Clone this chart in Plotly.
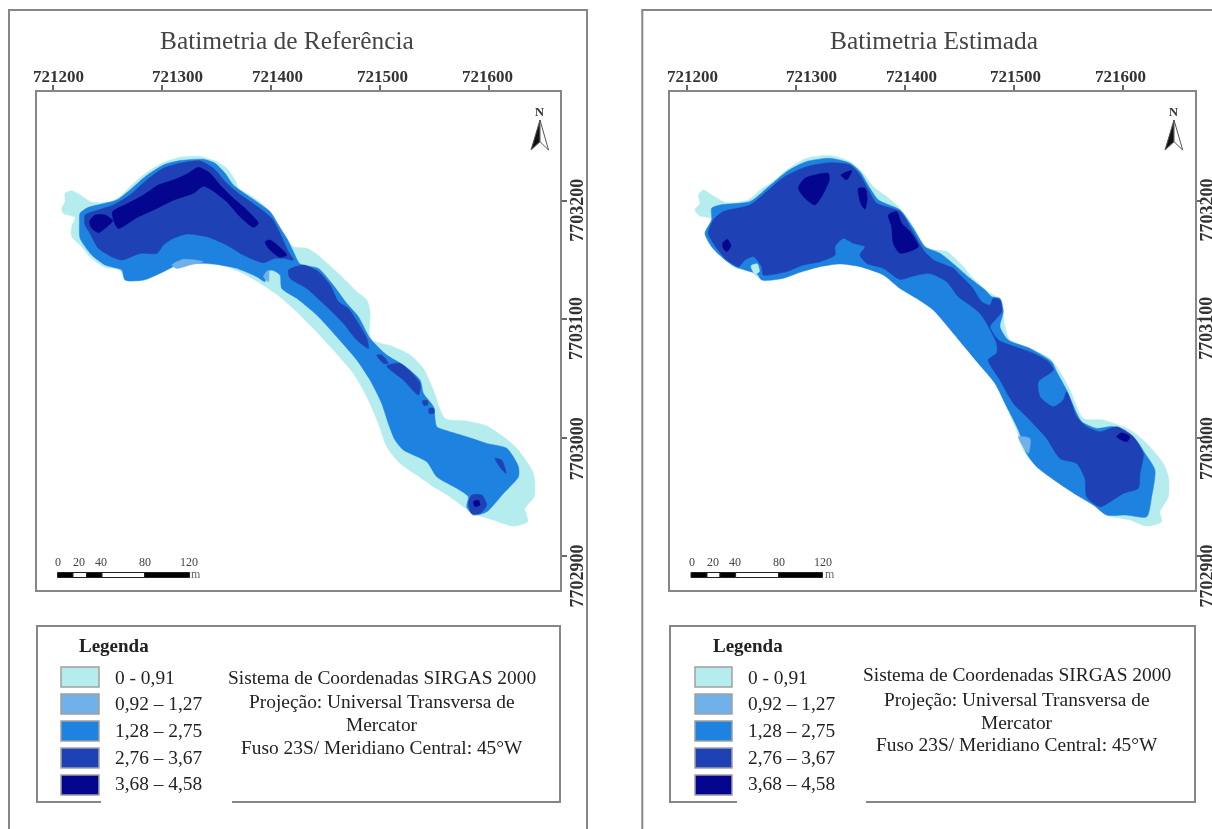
import plotly.graph_objects as go

W, H = 1212, 829
EAST0, NORTH0 = 721000, 7703000
N = None

# ---------------- data: contours, metres east of 721000 / north of 7703000 ----------------
ref_c1_e = [211.3,217.4,225.1,235.8,252.6,261.8,270.9,283.2,300,316.8,335.2,350.4,359.6,367.3,370.3,381,393.3,402.4,411.6,420.8,433,445.2,448.3,463.6,478.9,488.1,491.1,490.5,492.6,512.5,527.8,540,549.2,559.9,579.8,598.1,613.4,625.7,641,641.6,633.3,635.8,622.6,604.3,585.9,576.7,564.5,549.2,533.9,518.6,506.4,498.8,488.1,475.8,457.5,439.1,423.8,408.5,390.2,374.9,359.6,341.3,322.9,304.6,284.7,266.4,261.8,246.5,234.2,225.1,217.4,217.4,220.5,209.8,208.3,211.3,211.3]
ref_c1_n = [206.5,208.7,205,198.9,199.4,203.6,212.1,222,231.8,236.9,237.5,233.2,227.6,217.7,210.7,205,196.6,186.7,172.6,161.4,160,152.9,150.1,137.4,123.3,116.3,106.4,88.1,82.5,76.8,69.8,58.5,40.2,16.2,14,9.8,.7,-9.1,-30.3,-50,-59.9,-71.1,-74.8,-69.7,-64.1,-58.4,-50,-41.5,-31.7,-21.8,-7.7,12,34.6,54.3,74,92.3,106.4,119.1,130.4,138.8,144.5,148.7,148.7,141.6,133.2,133.2,141.6,144.5,152.9,162.8,169.8,178.3,186.2,189.6,193.8,199.4,206.5]

ref_c3_e = [225.1,232.7,245,258.7,270.9,284.7,301.5,316.8,338.2,348.9,358.1,365.7,387.1,399.4,407,414.7,420.8,426.9,443.7,456,469.7,480.4,491.1,506.4,521.7,537,540,549.2,552.3,561.4,579.8,598.1,616.5,627.2,627.2,613.4,598.1,585.9,579.8,581.3,570.6,552.3,543.1,521.7,514,507.9,501.8,491.1,478.9,460.5,442.2,423.8,410.1,408.5,400.9,394.8,394.8,387.1,368.8,350.4,332.1,313.8,301.5,283.2,266.4,263.3,248,235.8,225.1,224.5,225.1]
ref_c3_n = [189.6,194.6,197.4,200.8,209.3,220.5,230.4,234.1,235.2,231.8,223.4,213.5,199.4,191,179.7,168.4,157.1,146.7,143,130.4,113.5,102.2,83.9,69.8,61.3,48.6,37.4,26.1,9.2,5.8,.7,-4.9,-9.1,-24.6,-33.1,-47.2,-62.7,-65.5,-58.4,-50,-42.9,-33.1,-20.4,-10.5,-2.1,12,28.9,48.6,65.6,85.3,103.6,117.7,126.1,137.4,141.6,138.8,131.8,136,143.1,146.4,147.3,145.9,140.2,133.2,133.2,141.6,145.9,154.3,168.4,181.1,189.6]

ref_c2_e = [309.2,319.9,338.2,326,313.8,309.2,N,393.3,397.9,397.9,393.3]
ref_c2_n = [145.9,150.7,148.7,145.9,143,145.9,N,136,141.6,131.8,136]

ref_c4_e = [229.7,241.9,255.6,270.9,286.2,301.5,316.8,335.2,347.4,359.6,370.3,387.1,400.9,408.5,416.2,420.8,411.6,404,393.3,374.9,359.6,341.3,322.9,310.7,301.5,295.4,280.1,263.3,254.1,241.9,234.2,229.7,229.7,N,
            416.2,430,443.7,454.4,462.1,471.2,480.4,488.1,489.6,478.9,466.7,451.4,433,417.7,416.2,N,
            497.2,501.8,507.9,503.4,497.2,N,
            506.4,518.6,537,535.5,521.7,506.4,N,
            539.4,544,544,540,539.4,N,
            545.2,549.8,549.8,545.2,545.2,N,
            605.8,611.9,615.9,611,605.8,N,
            581.3,584.4,593.6,598.1,592,584.4,581.3]
ref_c4_n = [188.1,192.4,196.6,205,217.7,227.6,231.8,233.8,227.6,214.9,206.5,195.7,185.3,172.6,157.1,150.1,151.5,151.5,147.8,154.3,162.8,169.8,172.1,168.4,162.8,155.7,155.7,150.1,152.9,160,172.6,179.7,188.1,N,
            141.6,145.9,140.2,129,114.9,109.2,96.5,83.9,75.4,82.5,96.5,110.6,126.1,134.6,141.6,N,
            69.8,69.8,62.7,62.7,69.8,N,
            60.5,62.7,45.8,36,48.6,60.5,N,
            31.2,31.2,27.5,27.5,31.2,N,
            24.7,24.7,20.5,20.5,24.7,N,
            -17.6,-19,-30.3,-26,-17.6,N,
            -55.6,-48.6,-48.6,-57,-64.1,-64.1,-55.6]

ref_c5_e = [233.6,238.8,248,255,248,241.9,235.8,233.6,N,
            255,267.9,283.2,296.9,310.7,324.5,333.6,344.3,353.5,365.7,378,388.7,384.1,371.9,359.6,345.9,338.2,329,310.7,292.3,277,260.2,255.7,255,N,
            394.8,399.4,414.7,408.5,397.8,394.8,N,
            585.9,590.5,592,587.4,585.9]
ref_c5_n = [182.5,188.1,188.1,183.3,176.9,173.2,176.9,182.5,N,
            191,197.4,205,213.5,217.7,223.4,228.4,223.4,213.5,202.2,192.4,181.1,177.7,186.7,199.4,209.3,212.5,206.5,200.7,192.3,185.8,176.8,183.9,191,N,
            165.6,167,154.3,152.4,160,165.6,N,
            -54.2,-52.8,-57,-58.4,-54.2]

est_c1_e = [210.7,215.3,222.9,236.7,256.6,267.3,279.5,291.7,310,331.5,349.8,362,371.2,383.5,395.7,407.9,420.2,438.5,453.8,461.4,476.7,487.4,492,496.6,518,533.3,542.5,551.7,563.9,582.2,606.7,622,637.3,641.9,641.9,634.2,635.7,622,606.7,585.3,570,551.7,533.3,518,508.8,502.7,492,481.3,466,450.7,435.5,423.2,407.9,395.7,380.4,359,340.7,322.3,304,288.7,270.3,262.7,258.1,245.9,235.2,222.9,216.8,222.9,212.2,207.6,212.2,210.7]
est_c1_n = [205.1,209.3,205.1,198.6,200.9,209.3,216.4,226.2,236.1,238.4,233.3,223.4,212.1,203.7,193.8,178.3,160,157.2,144.5,136,123.3,116.3,93.7,82.5,74,67,55.7,40.2,16.2,14.8,6.4,-4.9,-21.8,-33.1,-50,-62.7,-71.1,-74.8,-69.7,-65.5,-54.2,-44.4,-33.1,-21.8,-10.5,6.4,28.9,48.6,65.6,82.5,99.4,110.6,119.1,127.5,138.9,145.9,147.3,145.9,140.3,134.7,132.7,137.5,143.1,143.1,150.2,161.4,172.7,185.4,187.4,192.4,198,205.1]

est_c3_e = [222.9,230.6,258.1,273.4,291.7,310,331.5,349.8,359,368.2,375.8,395.7,407.9,418.6,432.4,447.7,459.9,473.7,479.8,487.4,490.5,487.4,495,515,534.8,539.4,548.6,557.8,562.4,576.1,591.4,609.8,620.5,629.6,626.6,622,603.6,585.3,573.1,557.8,539.4,521.1,511.9,504.3,493.6,482.9,467.6,452.3,437,426.3,411,395.7,380.4,359,340.7,322.3,304,288.7,268.8,264.8,245.9,235.2,222.9,216.8,222.9,222.9,N,
            522.6,530.3,537.9,548.6,545.5,536.4,524.1,522.6]
est_c3_n = [193.8,196.6,199.5,210.7,224.8,233.3,236.1,231.9,224.8,210.7,200.9,192.4,176.9,161.4,155.8,144.5,134.6,124.7,119.1,117.7,106.4,93.7,82.5,75.4,64.1,55.7,40.2,20.5,13.4,7.8,9.2,.7,-13.4,-27.4,-50,-66.9,-65.5,-65.5,-57,-48.6,-37.3,-24.6,-13.4,6.4,26.1,45.8,62.7,79.6,96.6,107.8,117.7,126.1,137.5,144.5,146.8,144.5,139.7,134.7,133.2,138,143.9,150.2,161.4,172.7,184,193.8,N,
            47.2,55.7,48.6,38.8,31.7,26.1,34.6,47.2]

est_c2_e = [504.3,515,513.4,504.3]
est_c2_n = [.7,-.7,-13.4,.7]

est_c4_e = [224.5,233.6,258.1,273.4,290.2,310,331.5,349.8,359,366.7,374.3,395.7,406.4,417.1,426.3,444.6,449.2,461.5,470.6,478.3,481.3,487.4,489,482.9,478.3,485.9,501.2,518,531.8,536.4,522.6,524.1,536.4,545.5,548.6,553.2,557.8,566.9,579.2,594.5,608.2,618.9,615.9,614.3,600.6,579.2,566.9,565.4,557.8,542.5,530.3,511.9,499.7,487.4,476.7,484.4,484.4,475.2,469.1,459.9,449.2,438.5,423.2,407.9,395.7,380.4,365.1,359,363.6,352.9,343.7,336.1,336.1,322.3,307,291.7,270.3,268.8,261.2,253.5,247.4,235.2,224.5,219.9,224.5]
est_c4_n = [184,191,196.6,207.9,220.6,229,232.4,230.5,222,209.3,198.1,191,175.5,158.6,150.2,143.1,138.8,127.5,114.9,112,117.7,116.3,106.4,99.4,93.7,82.5,76.8,71.2,64.1,57.1,47.2,34.6,26.1,31.7,38.8,28.9,17.6,9.2,4.9,9.2,2.1,-13.4,-30.3,-42.9,-47.2,-58.4,-50,-34.5,-21.8,-17.6,-.7,17.6,28.9,48.6,65.6,71.2,79.6,96.6,105,112,119.1,131.8,138.8,136.6,133.7,143.1,147.3,154.4,161.4,164.2,168.5,161.4,154.4,148.7,145.9,140.3,137.5,144.5,153,150.2,144.5,151.6,164.2,172.7,184]

est_c5_e = [302.4,308.5,329.9,330.9,323.8,317.7,308.5,302.4,N,
            341.6,351.4,346.8,341.6,N,
            357.5,363.6,365.7,363.6,359.6,357.5,N,
            385,392.6,397.2,404.9,412.5,395.7,389.6,388,385,N,
            233,237.3,240.7,236.7,233.6,233,N,
            594.5,599,606.7,603.6,594.5]
est_c5_n = [210.7,219.2,223.4,217.8,203.7,196.6,202.3,210.7,N,
            222,225.7,217.8,222,N,
            210.7,210.7,202.3,193,198.1,210.7,N,
            188.2,191,181.2,174.1,161.4,155.8,164.2,178.3,188.2,N,
            164.2,167.6,162,157.2,160,164.2,N,
            .7,4.1,.7,-3.5,.7]

est_hole_e = [259,264.8,266.7,262.7,259]
est_hole_n = [145.1,146.8,140.3,138,145.1]

class_labels = ["0 - 0,91", "0,92 – 1,27", "1,28 – 2,75", "2,76 – 3,67", "3,68 – 4,58"]
class_colors = ["#b5ecee", "#6fb1e8", "#1e82e0", "#1e42b5", "#05068f"]
x_ticks = [721200, 721300, 721400, 721500, 721600]
y_ticks = [7703200, 7703100, 7703000, 7702900]
scale_labels = ["0", "20", "40", "80", "120"]
info_lines = ["Sistema de Coordenadas SIRGAS 2000", "Projeção: Universal Transversa de",
              "Mercator", "Fuso 23S/ Meridiano Central: 45°W"]

# ---------------- layout helpers (pixel placement of map furniture) ----------------
SERIF = "Liberation Serif"
def px(x): return x / W
def py(y): return 1 - y / H

panels = [
    dict(title="Batimetria de Referência", tc=287, frame=(36.5, 559.5), xr=[721185.1, 721664.9], outer=(9, 587),
         xshift=[6, 15.7, 7, 2.7, -1.7], ylab=576.7, axis="",
         series=[(ref_c1_e, ref_c1_n, 0), (ref_c3_e, ref_c3_n, 2), (ref_c2_e, ref_c2_n, 1), (ref_c4_e, ref_c4_n, 3), (ref_c5_e, ref_c5_n, 4)],
         arrow=(540, 531, 548.5), leg=(37, 560), sw=(61, 99), lab=113, legc=114, info=382, infoy=[677, 701, 724, 747],
         bar=[57.5, 73, 86.6, 102, 144.6, 189.6], barlab=[57.5, 79, 101, 145, 189], m=196, notch=(101, 232)),
    dict(title="Batimetria Estimada", tc=933.5, frame=(670, 1194.5), xr=[721184.7, 721665.9], outer=(642.3, 1240),
         xshift=[6, 15.7, 7, 1.7, -2.3], ylab=1206.5, axis="2",
         series=[(est_c1_e, est_c1_n, 0), (est_c3_e, est_c3_n, 2), (est_c2_e, est_c2_n, 1), (est_c4_e, est_c4_n, 3), (est_hole_e, est_hole_n, 0), (est_c5_e, est_c5_n, 4)],
         arrow=(1174, 1165, 1182.7), leg=(670, 1195), sw=(695, 732), lab=746, legc=748, info=1017, infoy=[674, 699, 722, 744],
         bar=[691, 707, 720, 735.6, 778.7, 822.5], barlab=[692, 713, 735, 778.7, 822.5], m=830, notch=(737, 866)),
]
y_label_shift = [9, 9, 11, 20]
swatch_top = [667, 694, 721, 748, 775]
swatch_mid = [677, 703, 730, 757, 783]

fig = go.Figure()
shapes, annos = [], []
LINE = "#868686"

def rect(x0, y0, x1, y1, fill="rgba(0,0,0,0)", line=LINE, lw=2):
    shapes.append(dict(type="rect", xref="paper", yref="paper", x0=px(x0), x1=px(x1), y0=py(y0), y1=py(y1),
                       fillcolor=fill, line=dict(color=line, width=lw), layer="above"))

def text(x, y, s, size, anchor="center", bold=False, color="#222222", angle=0):
    annos.append(dict(xref="paper", yref="paper", x=px(x), y=py(y), text=f"<b>{s}</b>" if bold else s,
                      showarrow=False, xanchor=anchor, yanchor="middle", textangle=angle,
                      font=dict(family=SERIF, size=size, color=color)))

layout_axes = {}
for p in panels:
    ax = p["axis"]
    for e, n, c in p["series"]:
        fig.add_trace(go.Scatter(
            x=[None if v is None else EAST0 + v for v in e],
            y=[None if v is None else NORTH0 + v for v in n],
            xaxis="x" + ax, yaxis="y" + ax, mode="lines", fill="toself", fillcolor=class_colors[c],
            line=dict(color=class_colors[c], width=0.5, shape="spline", smoothing=0.65),
            name=class_labels[c], showlegend=False, hoverinfo="skip"))

    layout_axes["xaxis" + ax] = dict(domain=[px(p["frame"][0]), px(p["frame"][1])], range=p["xr"], side="top",
        anchor="y" + ax, tickvals=x_ticks, ticks="outside", ticklen=5, tickwidth=2, tickcolor="#666",
        showticklabels=False, showgrid=False, zeroline=False, showline=True, mirror=True, linecolor=LINE, linewidth=2)
    layout_axes["yaxis" + ax] = dict(domain=[py(590), py(92)], range=[7702871.2, 7703292.1], side="right",
        anchor="x" + ax, tickvals=y_ticks, ticks="outside", ticklen=5, tickwidth=2, tickcolor="#666",
        showticklabels=False, showgrid=False, zeroline=False, showline=True, mirror=True, linecolor=LINE, linewidth=2)

    # outer frame and title
    rect(p["outer"][0], 10, p["outer"][1], 850)
    text(p["tc"], 40, p["title"], 25.4, color="#444444")

    # coordinate labels
    for v, s in zip(x_ticks, p["xshift"]):
        annos.append(dict(xref="x" + ax, yref="paper", x=v, y=py(76.5), xshift=s, text=f"<b>{v}</b>", showarrow=False,
                          xanchor="center", yanchor="middle", font=dict(family=SERIF, size=17, color="#333333")))
    for v, s in zip(y_ticks, y_label_shift):
        annos.append(dict(xref="paper", yref="y" + ax, x=px(p["ylab"]), y=v, yshift=-s, text=f"<b>{v}</b>", showarrow=False,
                          xanchor="center", yanchor="middle", textangle=-90, font=dict(family=SERIF, size=18, color="#333333")))

    # north arrow
    tip, bl, br = p["arrow"]
    text(tip - 0.5, 111.7, "N", 12.5, bold=True, color="#333333")
    shapes.append(dict(type="path", xref="paper", yref="paper", layer="above", fillcolor="#111111", line=dict(color="#555", width=1),
                       path=f"M{px(tip)},{py(120)} L{px(bl)},{py(150)} L{px(tip)},{py(141.7)} Z"))
    shapes.append(dict(type="path", xref="paper", yref="paper", layer="above", fillcolor="#ffffff", line=dict(color="#555", width=1),
                       path=f"M{px(tip)},{py(120)} L{px(br)},{py(150)} L{px(tip)},{py(141.7)} Z"))

    # scale bar
    b = p["bar"]
    for i in range(5):
        rect(b[i], 572.5, b[i + 1], 577.5, fill="#000000" if i % 2 == 0 else "#ffffff", line="#222222", lw=1)
    for x, s in zip(p["barlab"], scale_labels):
        text(x, 562, s, 12, color="#444444")
    text(p["m"], 574, "m", 12, color="#666666")

    # legend box
    rect(p["leg"][0], 626, p["leg"][1], 802)
    shapes.append(dict(type="line", xref="paper", yref="paper", layer="above", x0=px(p["notch"][0]), x1=px(p["notch"][1]),
                       y0=py(802), y1=py(802), line=dict(color="#ffffff", width=3)))
    text(p["legc"], 645, "Legenda", 19, bold=True)
    for lab, col, t, m in zip(class_labels, class_colors, swatch_top, swatch_mid):
        rect(p["sw"][0], t, p["sw"][1], t + 20, fill=col, line="#a0a0a0", lw=1.5)
        text(p["lab"], m, lab, 19.4, anchor="left")
    for line, y in zip(info_lines, p["infoy"]):
        text(p["info"], y, line, 19.4)

fig.update_layout(width=W, height=H, margin=dict(l=0, r=0, t=0, b=0), autosize=False,
                  paper_bgcolor="white", plot_bgcolor="white", showlegend=False,
                  shapes=shapes, annotations=annos, **layout_axes)

fig.write_html("out.html",
               post_script="document.body.style.margin='0';document.documentElement.style.overflow='hidden';"
                           "document.querySelector('.plotly-graph-div').style.filter='blur(0.55px)';",
               config=dict(displayModeBar=False))
